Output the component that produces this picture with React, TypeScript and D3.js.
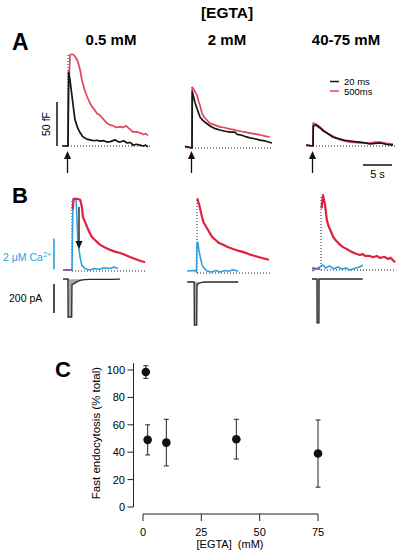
import React from "react";
import * as d3 from "d3";

type P = [number, number];

// ---------- DATA ----------
const TITLE = "[EGTA]";
const COLUMN_LABELS = ["0.5 mM", "2 mM", "40-75 mM"];
const LEGEND_LABELS = ["20 ms", "500ms"];

// Panel A: membrane capacitance (fF) vs time (s); t = 0 at stimulus
const A1_20ms: P[] = [[-1.0,0],[0,0],[0.1,84],[0.35,75],[0.7,56],[1.0,40],[1.2,30],[1.5,24],[1.7,20],[2.1,15],[2.5,11],[2.9,9],[3.4,7.5],[3.8,7],[4.5,6],[5.0,6.5],[5.5,5.5],[6.2,6],[6.7,4.5],[7.3,5],[8.1,7],[8.6,5],[9.0,4.5],[9.6,6],[10.2,3.5],[10.8,4],[11.2,1],[11.8,2],[12.4,1],[13.0,0],[13.4,1],[13.8,-1]];
const A1_500ms: P[] = [[-1.0,0],[0,0],[0.1,60],[0.35,104],[0.9,104],[1.4,100],[1.7,96],[2.1,86],[2.4,75],[2.9,63],[3.3,56],[3.7,50],[4.1,45],[4.6,41],[5.0,37],[5.5,35],[5.9,32],[6.3,29],[6.7,26],[7.2,24],[7.8,23],[8.3,21],[9.0,22],[9.5,21],[10,23],[10.5,20],[11.2,16],[11.8,16],[12.4,15],[13.0,13],[13.4,14],[13.8,12]];
const A2_20ms: P[] = [[-1.2,2],[0,0],[0.05,64],[0.5,52],[0.9,44],[1.4,35],[1.8,32],[2.2,29.5],[3.1,25],[4.0,22],[4.8,20.5],[5.7,19],[6.6,18],[7.4,18],[7.8,15.5],[8.3,15],[9.2,13],[10,11.5],[10.8,10.5],[11.7,9],[12.6,8],[13.8,5.7]];
const A2_500ms: P[] = [[-1.2,1],[0,0],[0.05,69],[0.35,66],[0.86,60],[1.1,54],[1.4,48],[1.7,40],[2.0,36],[2.4,33],[3.1,28],[4.0,26],[4.8,24],[5.7,23],[6.6,21.5],[7.4,20.5],[8.3,19],[9.2,18],[10,17],[10.8,16],[11.7,15],[12.6,13.5],[13.4,12.5]];
const A3_20ms: P[] = [[-1.2,1],[0,0],[0.05,22.7],[0.5,23.9],[1.2,20.5],[1.8,17],[2.4,14.8],[3.4,10.2],[4.0,9],[4.7,8],[5.5,6.5],[6.4,5.7],[7.2,5],[8.1,4.5],[9.0,3.5],[9.8,2.3],[10.7,3],[11.6,3.4],[12.6,2],[13.8,1.1]];
const A3_500ms: P[] = [[-1.2,1],[0,0],[0.05,26],[0.5,25],[1.2,21.6],[1.8,18],[2.4,14.8],[3.4,11.4],[4.7,6.8],[5.5,5.5],[6.4,4.5],[7.2,4],[8.1,3.4],[9.0,3.5],[9.8,3.4],[10.7,4.5],[11.6,4.5],[12.6,3],[13.8,2.3]];

// Panel B: capacitance (fF), [Ca2+] (uM), current (pA) vs time (s)
const B1_cap: P[] = [[0.1,70],[0.3,82],[0.9,82],[1.4,81],[1.7,73],[1.9,61],[2.3,55],[2.6,50],[3.0,44],[3.4,39],[4.0,35],[4.8,30],[5.6,27],[6.6,24],[7.4,22],[8.3,20.5],[9.1,18.5],[10,16],[10.8,14],[11.6,12],[12.6,10]];
const B1_pre: P[] = [[-1.55,0],[0,0]];
const B1_ca: P[] = [[0,0],[0.1,3],[0.2,4.6],[0.7,4.6],[0.86,3.2],[1.0,1.9],[1.4,0.8],[1.7,0.3],[2.2,0.1],[3.1,0],[3.8,0.1],[4.8,0.05],[5.5,0.15],[6.6,0.1],[7.2,0.2],[7.9,0.1]];
const B1_current: P[] = [[-1.55,0],[-0.7,0],[-0.68,-262],[-0.05,-262],[0,-40],[0.4,-30],[0.9,-18],[1.4,-10],[2.2,-5],[3.1,-3],[4.8,-2],[6.6,-2],[8.3,-1]];
const B2_cap: P[] = [[0.05,85],[0.35,78],[0.86,64],[1.1,58],[1.4,54.5],[1.8,50],[2.2,45.5],[2.6,41],[3.2,37.5],[3.8,34],[4.5,32],[5.3,29.5],[6.2,27.3],[7.0,25.5],[7.9,24],[8.9,21.5],[10,19.3],[11.2,17],[12.4,15]];
const B2_ca: P[] = [[-1.7,0.06],[-0.4,0.1],[-0.1,0],[0,1.9],[0.15,1.9],[0.35,1.35],[0.6,0.9],[0.86,0.5],[1.1,0.3],[1.4,0.2],[1.7,0.06],[2.5,0],[3.3,0.1],[4.0,0],[4.8,0.1],[5.5,0.05],[6.2,0.15],[7.1,0.05]];
const B2_current: P[] = [[-1.7,0],[-0.5,0],[-0.45,-297],[-0.05,-297],[0,-20],[0.3,-10],[0.8,-3],[1.5,0],[7.1,0]];
const B3_pre: P[] = [[-1.55,2],[-0.2,1]];
const B3_cap: P[] = [[0.1,70],[0.34,85],[0.7,74],[1.0,57],[1.3,50],[1.6,45.5],[2.1,37.5],[2.5,34],[3.0,30.7],[3.4,28],[3.8,26],[4.4,24],[5.0,21.6],[5.8,19],[6.7,17],[7.2,18],[7.6,16],[8.4,16],[9.0,14.5],[9.6,16],[10.2,13.6],[10.9,15],[11.6,12.5],[12.0,14],[12.4,11],[12.8,9]];
const B3_ca: P[] = [[-1.55,-0.13],[-0.9,0],[-0.2,0.13],[0.3,0.26],[0.8,0.06],[1.5,0.2],[2.2,0],[2.9,0.13],[3.6,0],[4.3,0.06],[5.0,-0.06],[5.9,0.06],[6.7,0.13],[7.2,0.26]];
const B3_current: P[] = [[-1.55,0],[-0.7,0],[-0.68,-303],[-0.35,-303],[-0.33,0],[7.2,0]];

// Panel C
const C_egta = [1.2, 2, 10, 40, 75];
const C_mean = [98.5, 49, 47, 49.5, 39];
const C_err = [4.6, 11, 17, 14.5, 24.5];
const C_yTicks = [0, 20, 40, 60, 80, 100];
const C_xTicks = [0, 25, 50, 75];

// ---------- LAYOUT ----------
const FONT = "'Liberation Sans', Arial, Helvetica, sans-serif";
const RED_A = "#e2435f";
const RED_B = "#e0203e";
const BLUE = "#2e9fe2";
const PURPLE = "#7a4fa0";
const PX_PER_S = 5.8, PX_PER_FF = 0.88, PX_PER_UM = 15.5, PX_PER_PA = 0.145;
const A_X0 = [68, 192, 313], A_BASE = [146, 148, 146];
const B_X0 = [72, 197, 321], B_BASE = [271, 273, 270], I_BASE = [279, 282, 279];

const mkLine = (d: P[], xs: (v: number) => number, ys: (v: number) => number) =>
  d3.line<P>().x((p) => xs(p[0])).y((p) => ys(p[1]))(d) ?? "";

const Arrow = ({ x, y1, y2 }: { x: number; y1: number; y2: number }) => {
  const dir = y2 > y1 ? 1 : -1;
  return (
    <g>
      <line x1={x} x2={x} y1={y1} y2={y2 - dir * 6} stroke="#111" strokeWidth={1.3} />
      <path d={`M${x},${y2} L${x - 3.5},${y2 - dir * 8} L${x + 3.5},${y2 - dir * 8} Z`} fill="#111" />
    </g>
  );
};

export default function App() {
  const A_data = [
    [A1_20ms, A1_500ms],
    [A2_20ms, A2_500ms],
    [A3_20ms, A3_500ms],
  ];
  const B_cap = [B1_cap, B2_cap, B3_cap];
  const B_ca = [B1_ca, B2_ca, B3_ca];
  const B_cur = [B1_current, B2_current, B3_current];
  const B_pre = [B1_pre, null, B3_pre];

  const colCenters = [111, 227, 346];

  // Panel C scales
  const cy = d3.scaleLinear().domain([0, 100]).range([507, 370]);
  const cx = d3.scaleLinear().domain([0, 75]).range([143, 318]);
  const axisX = 133.5;

  return (
    <svg width={400} height={555} style={{ position: "absolute", left: 0, top: 0, background: "#fff" }} fontFamily={FONT}>
      <rect width={400} height={555} fill="#fff" />
      <text x={227} y={18} textAnchor="middle" fontSize={15.5} fontWeight="bold">{TITLE}</text>
      <text x={12} y={50} fontSize={23} fontWeight="bold">A</text>
      <text x={12} y={203} fontSize={22} fontWeight="bold">B</text>
      <text x={55} y={377} fontSize={22} fontWeight="bold">C</text>
      {COLUMN_LABELS.map((l, i) => (
        <text key={l} x={colCenters[i]} y={45} textAnchor="middle" fontSize={15} fontWeight="bold">{l}</text>
      ))}

      {/* Panel A */}
      {A_data.map(([d20, d500], i) => {
        const xs = d3.scaleLinear().domain([0, 5]).range([A_X0[i], A_X0[i] + 5 * PX_PER_S]);
        const ys = d3.scaleLinear().domain([0, 50]).range([A_BASE[i], A_BASE[i] - 50 * PX_PER_FF]);
        const top = Math.min(ys(d3.max(d500, (p) => p[1])!), ys(d3.max(d20, (p) => p[1])!));
        const tEnd = d3.max(d500, (p) => p[0])!;
        return (
          <g key={i}>
            <line x1={xs(0)} x2={xs(0)} y1={ys(0)} y2={top} stroke="#222" strokeWidth={1} strokeDasharray="1,2" />
            <line x1={xs(0)} x2={xs(tEnd) + 2} y1={ys(0)} y2={ys(0)} stroke="#222" strokeWidth={1} strokeDasharray="1,2" />
            <path d={mkLine(d500, xs, ys)} fill="none" stroke={RED_A} strokeWidth={1.7} strokeLinejoin="round" />
            <path d={mkLine(d20, xs, ys)} fill="none" stroke="#151515" strokeWidth={1.7} strokeLinejoin="round" />
            <Arrow x={xs(0) - 0.5} y1={173} y2={151} />
            {i === 0 && (
              <g>
                <line x1={57} x2={57} y1={ys(0)} y2={ys(50)} stroke="#111" strokeWidth={1.5} />
                <text transform={`translate(50,${(ys(0) + ys(50)) / 2}) rotate(-90)`} textAnchor="middle" fontSize={10.5}>50 fF</text>
              </g>
            )}
            {i === 2 && (
              <g>
                <line x1={330} x2={339} y1={81.5} y2={81.5} stroke="#151515" strokeWidth={1.5} />
                <text x={344} y={85} fontSize={9.5}>{LEGEND_LABELS[0]}</text>
                <line x1={330} x2={339} y1={91} y2={91} stroke={RED_A} strokeWidth={1.5} />
                <text x={344} y={94.5} fontSize={9.5}>{LEGEND_LABELS[1]}</text>
                <line x1={363} x2={363 + 5 * PX_PER_S} y1={165} y2={165} stroke="#111" strokeWidth={1.5} />
                <text x={363 + 2.5 * PX_PER_S} y={178} textAnchor="middle" fontSize={11}>5 s</text>
              </g>
            )}
          </g>
        );
      })}

      {/* Panel B */}
      {B_cap.map((cap, i) => {
        const xs = d3.scaleLinear().domain([0, 5]).range([B_X0[i], B_X0[i] + 5 * PX_PER_S]);
        const yc = d3.scaleLinear().domain([0, 50]).range([B_BASE[i], B_BASE[i] - 50 * PX_PER_FF]);
        const yca = d3.scaleLinear().domain([0, 2]).range([B_BASE[i] - 1, B_BASE[i] - 1 - 2 * PX_PER_UM]);
        const yi = d3.scaleLinear().domain([0, -200]).range([I_BASE[i], I_BASE[i] + 200 * PX_PER_PA]);
        const top = yc(d3.max(cap, (p) => p[1])!);
        const tEnd = d3.max(cap, (p) => p[0])!;
        const pre = B_pre[i];
        return (
          <g key={i}>
            <line x1={xs(0)} x2={xs(0)} y1={yc(0)} y2={top} stroke="#222" strokeWidth={1} strokeDasharray="1,2" />
            <line x1={xs(0)} x2={xs(tEnd) + 1} y1={yc(0)} y2={yc(0)} stroke="#222" strokeWidth={1} strokeDasharray="1,2" />
            {pre && <path d={mkLine(pre, xs, i === 0 ? yca : yc)} fill="none" stroke={i === 0 ? PURPLE : RED_B} strokeWidth={1.8} />}
            <path d={mkLine(B_ca[i], xs, yca)} fill="none" stroke={BLUE} strokeWidth={1.6} strokeLinejoin="round" />
            <path d={mkLine(cap, xs, yc)} fill="none" stroke={RED_B} strokeWidth={2.2} strokeLinejoin="round" />
            <path d={mkLine(B_cur[i], xs, yi)} fill="#a8a8a8" stroke="#2a2a2a" strokeWidth={1.3} strokeLinejoin="miter" />
            {i === 0 && (
              <g>
                <Arrow x={79} y1={207} y2={249} />
                <line x1={54} x2={54} y1={yca(0) - 0.5} y2={yca(2) - 0.5} stroke={BLUE} strokeWidth={1.6} />
                <text x={3} y={261} fontSize={10.5} fill={BLUE}>
                  2 μM Ca<tspan fontSize={7.5} dy={-4}>2+</tspan>
                </text>
                <line x1={54} x2={54} y1={284} y2={284 + 200 * PX_PER_PA} stroke="#222" strokeWidth={1.6} />
                <text x={9} y={302} fontSize={10.5}>200 pA</text>
              </g>
            )}
          </g>
        );
      })}

      {/* Panel C */}
      <g>
        <line x1={axisX} x2={axisX} y1={cy(0)} y2={cy(105)} stroke="#222" strokeWidth={1} />
        {C_yTicks.map((t) => (
          <g key={t}>
            <line x1={axisX - 6} x2={axisX} y1={cy(t)} y2={cy(t)} stroke="#222" strokeWidth={1} />
            <text x={125} y={cy(t) + 4} textAnchor="end" fontSize={11}>{t}</text>
          </g>
        ))}
        <line x1={cx(0)} x2={cx(75)} y1={514} y2={514} stroke="#222" strokeWidth={1} />
        {C_xTicks.map((t) => (
          <g key={t}>
            <line x1={cx(t)} x2={cx(t)} y1={514} y2={521} stroke="#222" strokeWidth={1} />
            <text x={cx(t)} y={536} textAnchor="middle" fontSize={11}>{t}</text>
          </g>
        ))}
        <text x={230} y={548} textAnchor="middle" fontSize={11} style={{ whiteSpace: "pre" }}>{"[EGTA]  (mM)"}</text>
        <text transform="translate(100,433) rotate(-90)" textAnchor="middle" fontSize={11.5}>Fast endocytosis (% total)</text>
        {C_egta.map((x, i) => (
          <g key={i}>
            <line x1={cx(x)} x2={cx(x)} y1={cy(C_mean[i] - C_err[i])} y2={cy(C_mean[i] + C_err[i])} stroke="#222" strokeWidth={1} />
            <line x1={cx(x) - 2.5} x2={cx(x) + 2.5} y1={cy(C_mean[i] + C_err[i])} y2={cy(C_mean[i] + C_err[i])} stroke="#222" strokeWidth={1} />
            <line x1={cx(x) - 2.5} x2={cx(x) + 2.5} y1={cy(C_mean[i] - C_err[i])} y2={cy(C_mean[i] - C_err[i])} stroke="#222" strokeWidth={1} />
            <circle cx={cx(x)} cy={cy(C_mean[i])} r={4.3} fill="#111" />
          </g>
        ))}
      </g>
    </svg>
  );
}
